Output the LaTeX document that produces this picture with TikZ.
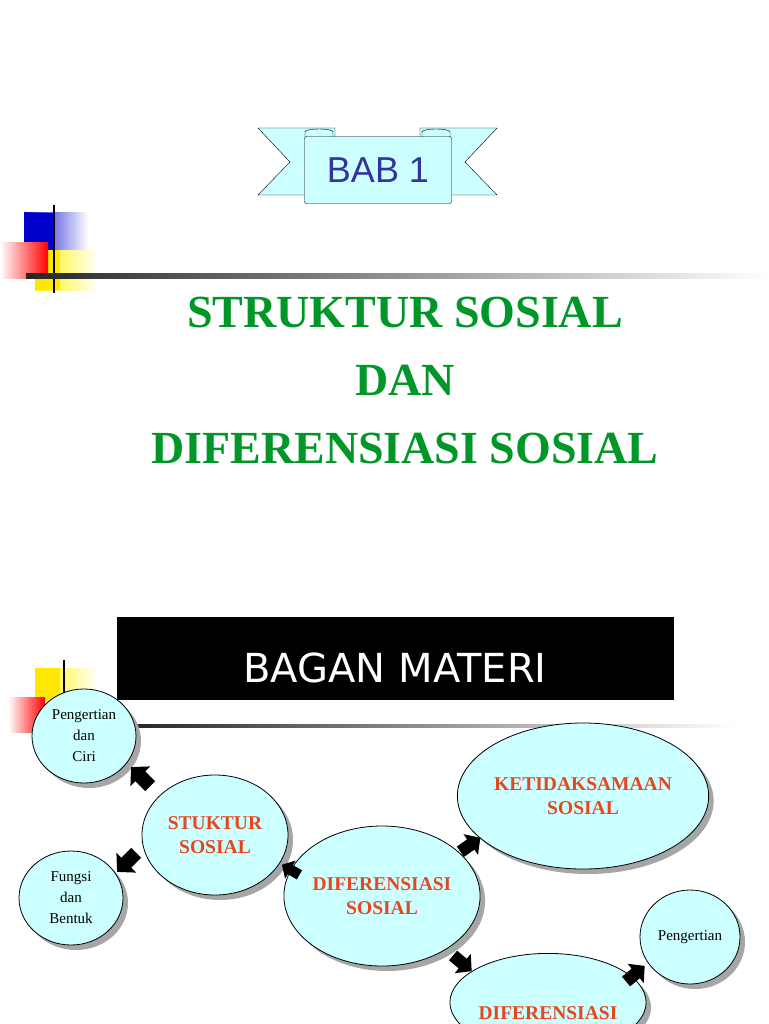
\documentclass[tikz,border=0pt]{standalone}
\usepackage{fontspec}
\setmainfont{Liberation Serif}
\newfontfamily\tah{DejaVu Sans}
\newfontfamily\lsans{Liberation Sans}
\usetikzlibrary{shapes.geometric,shadows}
\definecolor{bub}{RGB}{204,255,255}
\definecolor{tgreen}{RGB}{0,150,40}
\definecolor{tred}{RGB}{230,70,30}
\definecolor{bblue}{RGB}{51,51,153}
\tikzset{
 bubble/.style={ellipse,draw=black,fill=bub,line width=0.8pt,align=center,inner sep=0pt,
   drop shadow={shadow xshift=5pt,shadow yshift=-5pt,fill=gray!70,opacity=1}},
 redtxt/.style={font=\fontsize{19.5}{24}\selectfont\bfseries,text=tred},
 blktxt/.style={font=\fontsize{15}{21}\selectfont},
}
\newcommand{\blockarrow}[4]{%
 \begin{scope}[shift={(#1,#2)},rotate=#3,scale=#4]
  \fill[black] (-13,-7) -- (1,-7) -- (1,-14) -- (14,0) -- (1,14) -- (1,7) -- (-13,7) -- cycle;
 \end{scope}}
\begin{document}
\begin{tikzpicture}[x=1pt,y=-1pt]
\useasboundingbox (0,0) rectangle (768,1024);
\fill[white] (0,0) rectangle (768,1024);
% ribbon
\draw[fill=bub] (258,128) -- (335,128) -- (335,195) -- (258,195) -- (290,162) -- cycle;
\draw[fill=bub] (497,128) -- (420,128) -- (420,195) -- (497,195) -- (465,162) -- cycle;
\node[draw,fill=bub,rounded corners=2pt,minimum width=147pt,minimum height=67pt,
  font=\lsans\fontsize{36}{40}\selectfont,text=bblue] (bab) at (378,170) {BAB 1};
\draw (305,137) -- (305,132) .. controls (305,128) and (333,128) .. (333,132) -- (333,137);
\draw (422,137) -- (422,132) .. controls (422,128) and (450,128) .. (450,132) -- (450,137);
% top deco
\shade[left color=blue!80!black,right color=white] (24,213) rectangle (88,250);
\fill[blue!80!black] (24,213) rectangle (55,250);
\shade[left color=yellow!90!orange,right color=white] (35,250) rectangle (98,290);
\fill[yellow!90!orange] (35,250) rectangle (60,290);
\shade[left color=white,right color=red] (0,242) rectangle (48,278);
\draw[line width=1.5pt] (54,205) -- (54,293);
\shade[left color=black!85,right color=white] (26,273) rectangle (768,278);
% title
\node[font=\fontsize{46}{68}\selectfont\bfseries,text=tgreen,align=center] (title) at (405,380)
 {STRUKTUR SOSIAL\\DAN\\DIFERENSIASI SOSIAL};
% black box
\fill[black] (117,617) rectangle (674,700);
\node[font=\tah\fontsize{40}{44}\selectfont,text=white] (bagan) at (395,668) {BAGAN MATERI};
% lower deco
\shade[left color=yellow!90!orange,right color=white] (35,668) rectangle (98,700);
\fill[yellow!90!orange] (35,668) rectangle (60,700);
\shade[left color=white,right color=red] (8,697) rectangle (45,732);
\draw[line width=1.2pt] (64,660) -- (64,742);
\shade[left color=black!85,right color=white] (130,724) rectangle (735,727);
% bubbles
\node[bubble,minimum width=104pt,minimum height=94pt,blktxt] (pc) at (84,736) {Pengertian\\dan\\Ciri};
\node[bubble,minimum width=146pt,minimum height=120pt,redtxt] (ss) at (215,835) {STUKTUR\\SOSIAL};
\node[bubble,minimum width=104pt,minimum height=94pt,blktxt] (fb) at (71,898) {Fungsi\\dan\\Bentuk};
\node[bubble,minimum width=160pt,minimum height=140pt,redtxt] (ds) at (382,896) {DIFERENSIASI\\SOSIAL};
\node[bubble,minimum width=202pt,minimum height=146pt,redtxt] (ks) at (583,796) {KETIDAKSAMAAN\\SOSIAL};
\node[bubble,minimum width=100pt,minimum height=94pt,blktxt] (pg) at (690,937) {Pengertian};
\node[bubble,minimum width=152pt,minimum height=98pt,redtxt,anchor=north] (dd) at (548,953) {\\[10pt]DIFERENSIASI};
% block arrows
\blockarrow{141}{777}{135}{1}
\blockarrow{127}{862}{-135}{1}
\blockarrow{291}{870}{150}{0.75}
\blockarrow{470}{845}{35}{0.9}
\blockarrow{462}{963}{-40}{0.9}
\blockarrow{635}{974}{40}{0.9}
\end{tikzpicture}
\end{document}
